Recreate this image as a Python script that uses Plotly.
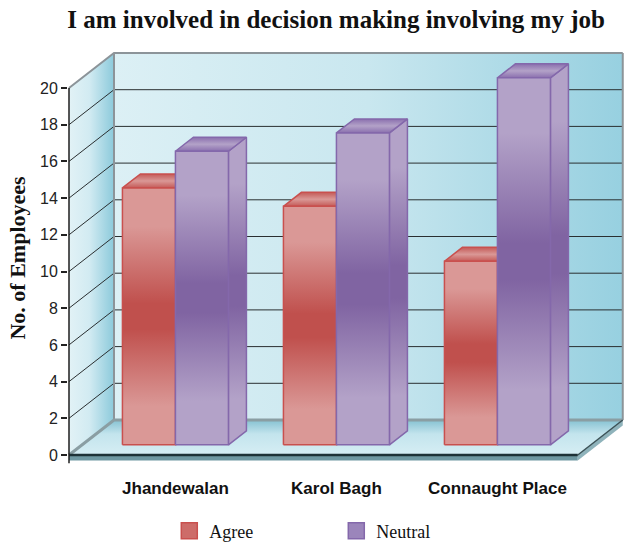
import plotly.graph_objects as go

# ---------------- data ----------------
categories = ["Jhandewalan", "Karol Bagh", "Connaught Place"]
agree = [14, 13, 10]
neutral = [16, 17, 20]
series_names = ["Agree", "Neutral"]
y_ticks = [0, 2, 4, 6, 8, 10, 12, 14, 16, 18, 20]

# ---------------- style constants ----------------
KX = 161.0            # px per x unit (for sizing the depth offsets)
KY = 18.35            # px per y unit
DX = 45 / KX          # depth offset of the whole box (x units)
DY = 35 / KY          # depth offset of the whole box (y units)
F = 0.29              # depth position of bar front faces
D = 0.40              # bar depth as fraction of box depth
W = 53 / KX           # bar width (x units)
SLAB = 0.3            # floor thickness (y units)
PAD = 0.58            # floor extent beyond the outer categories
YMAX = 20

light = {"Agree": "#da9896", "Neutral": "#b3a2c8"}
dark = {"Agree": "#c0504d", "Neutral": "#8064a2"}
edge = {"Agree": "#c9504e", "Neutral": "#8468ab"}
topc = {"Agree": "#c45a57", "Neutral": "#8a6fae"}

fig = go.Figure()


def poly(xs, ys, color=None, grad=None, line_color=None, line_width=0):
    tr = dict(x=list(xs) + [xs[0]], y=list(ys) + [ys[0]], mode="lines",
              fill="toself", hoverinfo="skip", showlegend=False,
              line=dict(width=line_width, color=line_color or "rgba(0,0,0,0)"))
    if grad is not None:
        tr["fillgradient"] = grad
    else:
        tr["fillcolor"] = color
    fig.add_trace(go.Scatter(**tr))


def seg(xs, ys, color, width):
    fig.add_trace(go.Scatter(x=xs, y=ys, mode="lines", hoverinfo="skip",
                             showlegend=False, line=dict(color=color, width=width)))


x_left = -PAD
x_right = len(categories) - 1 + PAD

# back wall
poly([x_left + DX, x_right + DX, x_right + DX, x_left + DX],
     [DY, DY, YMAX + DY, YMAX + DY],
     grad=dict(type="horizontal",
               colorscale=[[0, "#dcf0f5"], [0.5, "#c9e7ef"], [1, "#97d0e0"]]))
# side wall
poly([x_left, x_left, x_left + DX, x_left + DX],
     [0, YMAX, YMAX + DY, DY],
     grad=dict(type="horizontal",
               colorscale=[[0, "#e2f2f6"], [0.45, "#d2ebf2"], [1, "#8ccadb"]]))
# floor top
poly([x_left, x_right, x_right + DX, x_left + DX],
     [0, 0, DY, DY],
     grad=dict(type="vertical",
               colorscale=[[0, "#d6eef4"], [0.6, "#c3e4ed"], [1, "#86c2d2"]]))
# floor slab front and right
poly([x_left, x_right, x_right, x_left], [0, 0, -SLAB, -SLAB], color="#6f98a2")
poly([x_right, x_right + DX, x_right + DX, x_right],
     [0, DY, DY - SLAB, -SLAB], color="#8fb3bb")

# gridlines on side wall and back wall
for t in y_ticks:
    if t == 0:
        continue
    c = "#8c9499" if t == YMAX else "#2a2f31"
    w = 2 if t == YMAX else 1
    seg([x_left, x_left + DX, x_right + DX], [t, t + DY, t + DY], c, w)

# wall edges
seg([x_left + DX, x_left + DX], [DY, YMAX + DY], "#8c9499", 2)
seg([x_right + DX, x_right + DX], [DY, YMAX + DY], "#8c9499", 2)
seg([x_left, x_left + DX, x_right + DX], [0, DY, DY], "#8a9ea3", 3)
seg([x_right, x_right + DX], [0, DY], "#3c5257", 1.5)
# front floor edge and value axis line
seg([x_left, x_right], [0, 0], "#1e3237", 2.5)
seg([x_left, x_left], [-SLAB - 0.15, YMAX], "#1e1e1e", 1.5)

# bars
series_vals = {"Agree": agree, "Neutral": neutral}
for i in range(len(categories)):
    for s, name in enumerate(series_names):
        v = series_vals[name][i]
        x0 = i + F * DX - W + s * W
        x1 = x0 + W
        y0 = F * DY
        y1 = v + F * DY
        bx = D * DX
        by = D * DY
        grad_front = dict(type="vertical", colorscale=[
            [0, light[name]], [0.15, light[name]], [0.45, dark[name]],
            [0.55, dark[name]], [0.85, light[name]], [1, light[name]]])
        # right side face
        poly([x1, x1 + bx, x1 + bx, x1], [y0, y0 + by, y1 + by, y1],
             grad=grad_front, line_color=edge[name], line_width=1.5)
        # top face
        poly([x0, x1, x1 + bx, x0 + bx], [y1, y1, y1 + by, y1 + by],
             grad=dict(type="vertical", colorscale=[
                 [0, topc[name]], [0.5, light[name]], [1, topc[name]]]),
             line_color=edge[name], line_width=1.5)
        # front face
        poly([x0, x1, x1, x0], [y0, y0, y1, y1],
             grad=grad_front, line_color=edge[name], line_width=1.5)

# legend entries
legend_colors = {"Agree": "#cd6c69", "Neutral": "#9b85bb"}
for name in series_names:
    fig.add_trace(go.Scatter(
        x=[None], y=[None], mode="markers", name=name,
        marker=dict(symbol="square", size=16, color=legend_colors[name],
                    line=dict(color=edge[name], width=1.5))))

cat_pos = [i + F * DX for i in range(len(categories))]

fig.update_layout(
    width=627, height=546,
    margin=dict(l=68, r=0, t=50, b=80),
    paper_bgcolor="white", plot_bgcolor="white",
    hovermode=False,
    title=dict(text="I am involved in decision making involving my job",
               x=0.536, xanchor="center", y=1 - 19 / 546, yanchor="middle",
               font=dict(family="Liberation Serif", size=25, color="#111",
                         weight="bold")),
    xaxis=dict(range=[x_left - 1 / KX, x_left + 558 / KX],
               tickvals=cat_pos, ticktext=categories,
               showgrid=False, zeroline=False, showline=False, ticks="",
               ticklabelstandoff=10,
               tickfont=dict(family="Liberation Sans", size=17, color="#111",
                             weight="bold")),
    yaxis=dict(range=[-11 / KY, 405 / KY],
               tickvals=y_ticks, ticktext=[str(t) for t in y_ticks],
               showgrid=False, zeroline=False, showline=False,
               ticks="outside", ticklen=6, tickcolor="#222", tickwidth=1.5,
               tickfont=dict(family="Liberation Sans", size=16, color="#222"),
               title=dict(text="No. of Employees", standoff=8,
                          font=dict(family="Liberation Serif", size=22,
                                    color="#111", weight="bold"))),
    legend=dict(orientation="h", xref="container", yref="container",
                x=0.27, xanchor="left", y=0.0275, yanchor="middle",
                entrywidth=122, entrywidthmode="pixels",
                font=dict(family="Liberation Serif", size=18, color="#111")),
    showlegend=True,
)

fig.write_html("out.html", config={"displayModeBar": False},
               post_script="document.body.style.margin='0px';")
